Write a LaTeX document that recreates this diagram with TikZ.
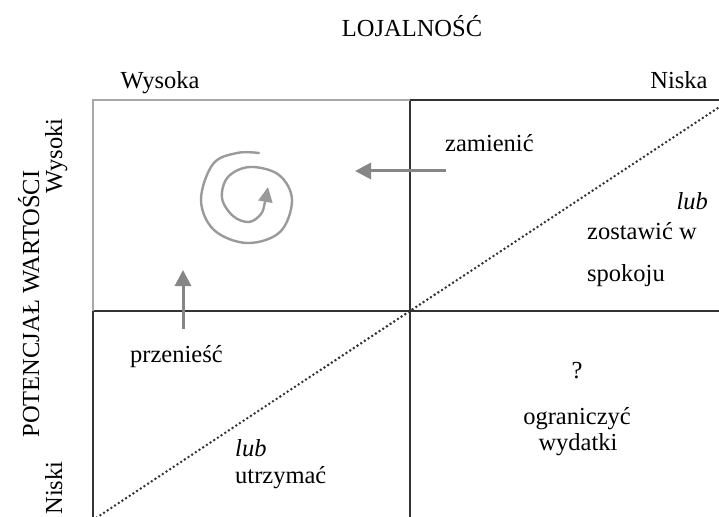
\documentclass[tikz,border=0pt]{standalone}
\usepackage{fontspec}
\setmainfont{Liberation Serif}
\usetikzlibrary{arrows.meta}
\definecolor{gridline}{HTML}{333333}
\definecolor{lightframe}{HTML}{A8A8A8}
\definecolor{arrowgray}{HTML}{868686}
\definecolor{spiralgray}{HTML}{9A9A9A}
\begin{document}
\begin{tikzpicture}[x=1bp,y=-1bp,
  lbl/.style={font=\fontsize{24.5bp}{29bp}\selectfont, inner sep=0pt, anchor=base},
  lblw/.style={lbl, anchor=base west},
  lble/.style={lbl, anchor=base east},
  vlbl/.style={lbl, rotate=90},
  darkline/.style={draw=gridline, line width=2bp},
  lightline/.style={draw=lightframe, line width=2bp},
  diag/.style={draw=gridline, line width=2.8bp, line cap=round, dash pattern=on 0bp off 4.4bp},
  grayarrow/.style={draw=arrowgray, line width=3bp, -{Triangle[length=16bp,width=16bp]}},
  spiralline/.style={draw=spiralgray, line width=2.4bp, line cap=round, -{Triangle[length=15bp,width=14bp]}}]
\useasboundingbox (0,0) rectangle (719,517);

% quadrant grid
\coordinate (tl) at (93,100);
\coordinate (tm) at (410,100);
\coordinate (ml) at (93,311);
\coordinate (cc) at (410,311);
\begin{scope}
  \clip (0,0) rectangle (719,517);
  \draw[darkline] (ml) -- (93,540);
  \draw[darkline] (tm) -- (410,540);
  \draw[darkline] (ml) -- (740,311);
  \draw[darkline] (tm) -- (740,100);
  \draw[lightline] (ml) -- (tl) -- (tm);
  \draw[diag] (93,520) -- (cc) -- (730,100);
\end{scope}

% axis titles
\node[lbl] (loj) at (412,37) {LOJALNOŚĆ};
\node[lbl] (wysoka) at (160,89) {Wysoka};
\node[lbl] (niska) at (679,89) {Niska};
\node[vlbl] (pot) at (39,304) {POTENCJAŁ WARTOŚCI};
\node[vlbl] (wysoki) at (62,156) {Wysoki};
\node[vlbl] (niski) at (62,488) {Niski};

% quadrant texts
\node[lblw] (zam) at (445,152) {zamienić};
\node[lble] (lub1) at (708,210) {\itshape lub};
\node[lblw] (zost) at (587,240) {zostawić w};
\node[lblw] (spok) at (587,282) {spokoju};
\node[lblw] (prz) at (130,362) {przenieść};
\node[lblw] (lub2) at (235,456) {\itshape lub};
\node[lblw] (utrz) at (235,483) {utrzymać};
\node[lbl] (q) at (577,378) {?};
\node[lbl] (ogr) at (577,424) {ograniczyć};
\node[lbl] (wyd) at (578,450) {wydatki};

% movement arrows
\coordinate (zamA) at (446,171);
\coordinate (zamB) at (355,171);
\coordinate (przA) at (183,329);
\coordinate (przB) at (183,270);
\draw[grayarrow] (zamA) -- (zamB);
\draw[grayarrow] (przA) -- (przB);

% spiral
\draw[spiralline] plot[smooth, tension=0.6] coordinates {
  (259,153) (237,153) (213,164) (201,200) (214,230) (247,243) (280,232)
  (292,200) (279,175) (250,167) (228,177) (222,198) (233,216) (249,222)
  (261,214) (265,202) (268,187)};
\end{tikzpicture}
\end{document}
